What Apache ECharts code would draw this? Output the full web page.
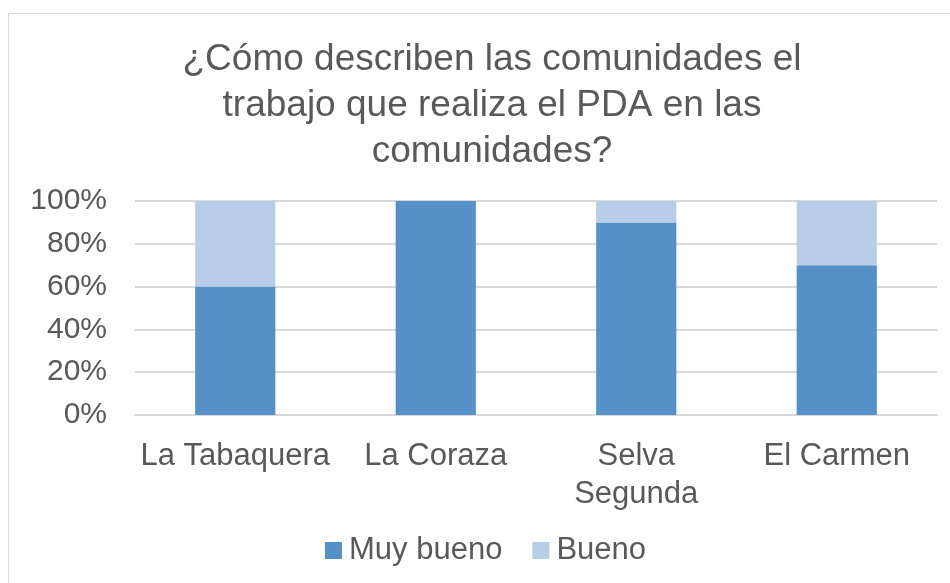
<!DOCTYPE html>
<html>
<head>
    <meta charset="utf-8" />
    <script src="https://cdn.jsdelivr.net/npm/echarts@6/dist/echarts.min.js"></script>
    <style>
        html, body { margin: 0; padding: 0; background: #fff; }
    </style>
</head>
<body>
    <div id="main" style="width: 950px;height: 583px;"></div>

    <script type="text/javascript">
        var categories = ['La Tabaquera', 'La Coraza', 'Selva\nSegunda', 'El Carmen'];
        var muyBueno = [60, 100, 90, 70];
        var bueno = [40, 0, 10, 30];
        var yTicks = [0, 20, 40, 60, 80, 100];

        var chartDom = document.getElementById('main');
        var myChart = echarts.init(chartDom);
        var textColor = '#595959';
        var fontFam = '"Liberation Sans", Arial, sans-serif';

        var option = {
            animation: false,
            graphic: [{
                type: 'rect',
                shape: { x: 8.5, y: 13.5, width: 960, height: 600 },
                style: { fill: 'none', stroke: '#d9d9d9', lineWidth: 1 }
            }],
            title: {
                text: '¿Cómo describen las comunidades el\ntrabajo que realiza el PDA en las\ncomunidades?',
                left: 487,
                top: 32,
                textAlign: 'center',
                textStyle: {
                    color: textColor,
                    fontFamily: fontFam,
                    fontWeight: 'normal',
                    fontSize: 37,
                    lineHeight: 46
                }
            },
            legend: {
                bottom: 12,
                left: 320,
                itemWidth: 17,
                itemHeight: 17,
                itemGap: 30,
                icon: 'rect',
                textStyle: { color: textColor, fontFamily: fontFam, fontSize: 31, padding: [0, 0, 0, 2] },
                data: ['Muy bueno', 'Bueno']
            },
            grid: { left: 135, right: 13, top: 201, bottom: 168, containLabel: false },
            xAxis: {
                type: 'category',
                data: categories,
                axisLine: { lineStyle: { color: '#d9d9d9', width: 2 } },
                axisTick: { show: false },
                axisLabel: {
                    color: textColor, fontFamily: fontFam, fontSize: 31,
                    lineHeight: 38, margin: 22, interval: 0
                }
            },
            yAxis: {
                type: 'value',
                min: 0,
                max: 100,
                interval: 20,
                axisLine: { show: false },
                axisTick: { show: false },
                splitLine: { lineStyle: { color: '#d9d9d9', width: 2 } },
                axisLabel: {
                    color: textColor, fontFamily: fontFam, fontSize: 30, margin: 28,
                    formatter: function (v) { return yTicks.indexOf(v) >= 0 ? v + '%' : ''; }
                }
            },
            series: [
                {
                    name: 'Muy bueno',
                    type: 'bar',
                    stack: 'total',
                    barWidth: '40%',
                    itemStyle: { color: '#5591c7' },
                    data: muyBueno
                },
                {
                    name: 'Bueno',
                    type: 'bar',
                    stack: 'total',
                    barWidth: '40%',
                    itemStyle: { color: '#b7cde8' },
                    data: bueno
                }
            ]
        };
        option && myChart.setOption(option);
    </script>
</body>
</html>
